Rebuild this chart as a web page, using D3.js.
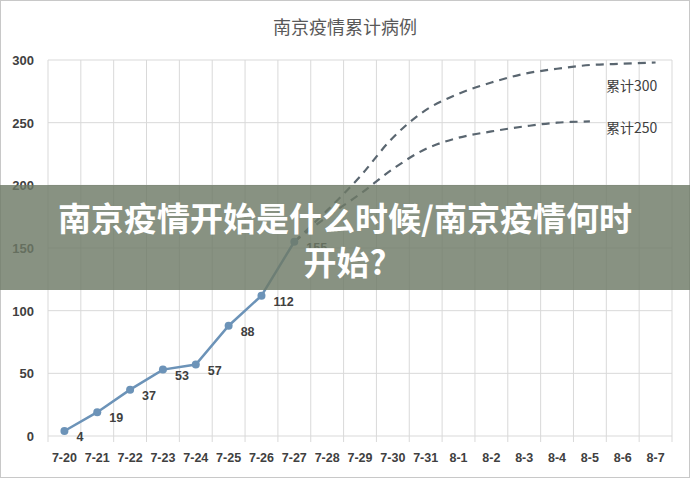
<!DOCTYPE html><html><head><meta charset="utf-8"><script src="https://cdn.jsdelivr.net/npm/d3@7"></script>
<style>body{margin:0;background:#fff}svg{font-family:"Noto Sans CJK SC",Calibri,"Liberation Sans",sans-serif}</style></head><body>
<svg id="c" width="690" height="478"></svg>
<script>
const dates=["7-20","7-21","7-22","7-23","7-24","7-25","7-26","7-27","7-28","7-29","7-30","7-31","8-1","8-2","8-3","8-4","8-5","8-6","8-7"];
const actual=[4,19,37,53,57,88,112,155];
const proj300=[155,180,207,238,260,273,282,289,293,296,297,298];
const proj250=[155,175,193,213,229,238,243,247,250,251];
const yTicks=[0,50,100,150,200,250,300];
const svg=d3.select("#c");
svg.append("rect").attr("x",0.5).attr("y",0.5).attr("width",689).attr("height",477).attr("fill","#fff").attr("stroke","#c8c8c8");
const x=d3.scaleBand().domain(dates).range([48,672]);
const cx=d=>x(d)+x.bandwidth()/2;
const y=d3.scaleLinear().domain([0,300]).range([436,60]);
svg.append("text").attr("x",345).attr("y",34).attr("text-anchor","middle").attr("font-size",18).attr("fill","#595959").text("南京疫情累计病例");
const g=svg.append("g");
g.selectAll("line.h").data(yTicks).join("line").attr("x1",48).attr("x2",672).attr("y1",d=>y(d)).attr("y2",d=>y(d)).attr("stroke","#d9d9d9");
const vb=dates.map(d=>x(d)).concat([672]);
g.selectAll("line.v").data(vb).join("line").attr("x1",d=>d).attr("x2",d=>d).attr("y1",60).attr("y2",442).attr("stroke","#d9d9d9");
svg.selectAll("text.yt").data(yTicks).join("text").attr("x",34).attr("y",d=>y(d)+5).attr("text-anchor","end").attr("font-size",13).attr("font-weight","bold").attr("fill","#404040").attr("font-family","Liberation Sans").text(d=>d);
svg.selectAll("text.xt").data(dates).join("text").attr("x",d=>cx(d)).attr("y",462).attr("text-anchor","middle").attr("font-size",12.5).attr("font-weight","bold").attr("fill","#404040").attr("font-family","Liberation Sans").text(d=>d);
const pos=i=>cx(dates[i]);
const line=d3.line().x(d=>pos(d.i)).y(d=>y(d.v)).curve(d3.curveCatmullRom);
[proj300,proj250].forEach(p=>{
 svg.append("path").attr("d",line(p.map((v,k)=>({i:k+7,v})))).attr("fill","none").attr("stroke","#5a6670").attr("stroke-width",2.2).attr("stroke-dasharray","8,6");
});
const ad=actual.map((v,i)=>({i,v}));
svg.append("path").attr("d",d3.line().x(d=>pos(d.i)).y(d=>y(d.v))(ad)).attr("fill","none").attr("stroke","#6c93b8").attr("stroke-width",2.5);
svg.selectAll("circle").data(ad).join("circle").attr("cx",d=>pos(d.i)).attr("cy",d=>y(d.v)).attr("r",4).attr("fill","#6c93b8");
svg.selectAll("text.dl").data(ad).join("text").attr("x",d=>pos(d.i)+12).attr("y",d=>y(d.v)+10).attr("font-size",12.5).attr("font-weight","bold").attr("fill","#404040").attr("font-family","Liberation Sans").text(d=>d.v);
svg.append("text").attr("x",606).attr("y",91).attr("font-size",14).attr("fill","#404040").text("累计300");
svg.append("text").attr("x",606).attr("y",133).attr("font-size",14).attr("fill","#404040").text("累计250");
svg.append("rect").attr("x",0).attr("y",185).attr("width",690).attr("height",105).attr("fill","rgb(110,122,102)").attr("opacity",0.82);
svg.append("text").attr("x",345).attr("y",231).attr("text-anchor","middle").attr("font-size",33).attr("font-weight","bold").attr("fill","#fff").text("南京疫情开始是什么时候/南京疫情何时");
svg.append("text").attr("x",345).attr("y",275).attr("text-anchor","middle").attr("font-size",33).attr("font-weight","bold").attr("fill","#fff").text("开始?");
</script></body></html>
